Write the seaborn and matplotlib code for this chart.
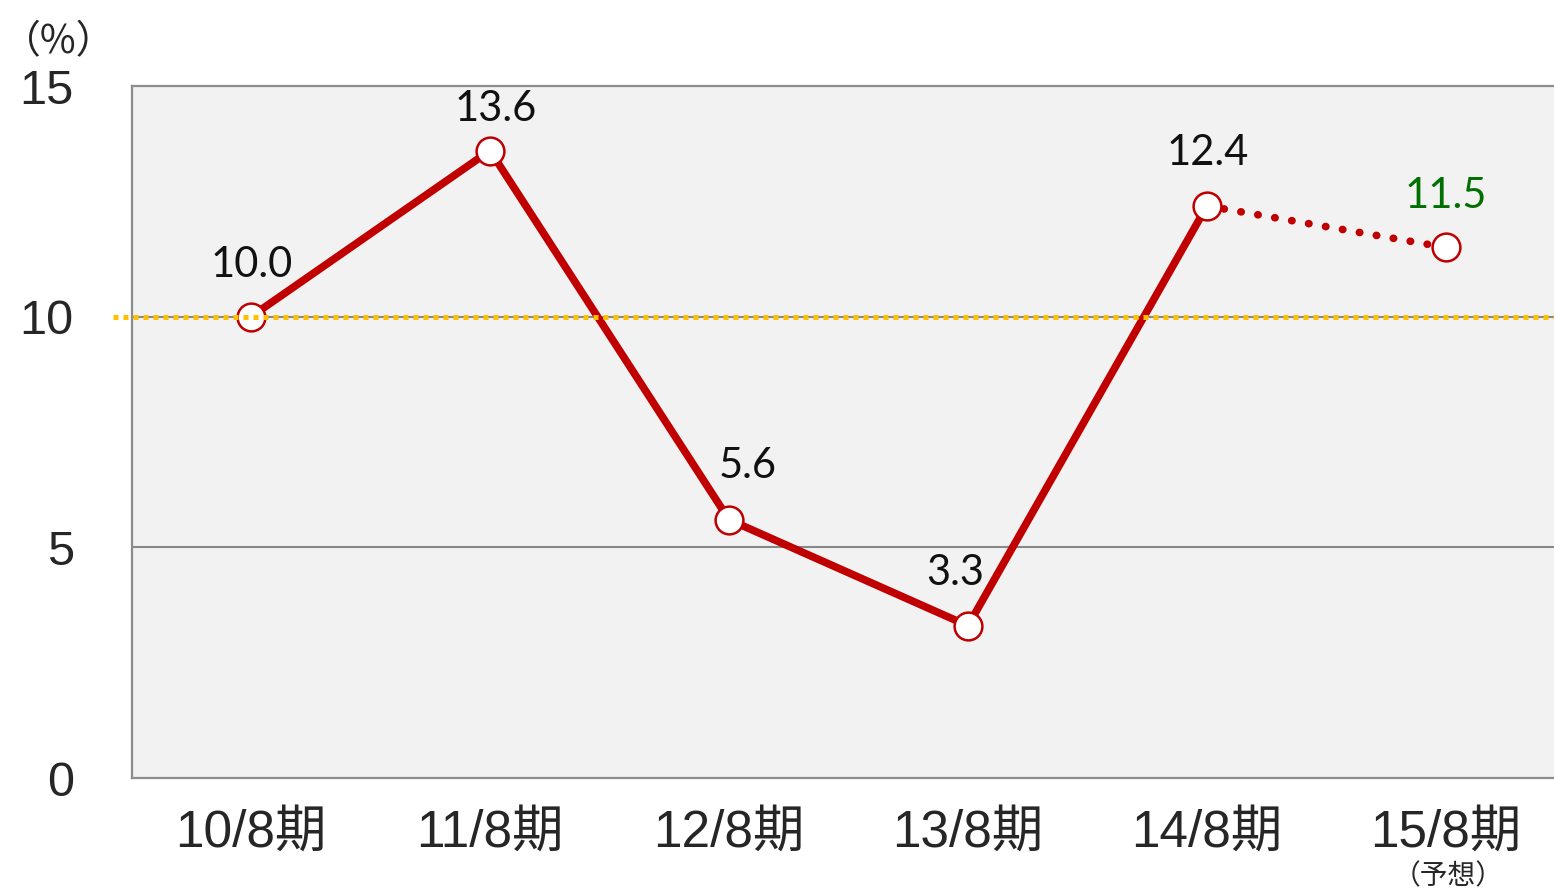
import matplotlib
matplotlib.use("Agg")
import matplotlib.pyplot as plt
import seaborn as sns
import pandas as pd
import numpy as np

categories = ["10/8期", "11/8期", "12/8期", "13/8期", "14/8期", "15/8期"]
values = [10.0, 13.6, 5.6, 3.3, 12.4, 11.5]
label_texts = ["10.0", "13.6", "5.6", "3.3", "12.4", "11.5"]
yticks = [0, 5, 10, 15]

sns.set_theme(style="white")
plt.rcParams['font.family'] = ['Liberation Sans', 'Noto Sans CJK JP', 'DejaVu Sans']

W, H = 1554, 892
fig = plt.figure(figsize=(W / 100, H / 100), dpi=100)
ax = fig.add_axes([132 / W, 1 - 778 / H, (W - 132) / W, (778 - 86) / H])
ax.set_facecolor("#f2f2f2")

df = pd.DataFrame({"cat": categories, "x": np.arange(len(categories)), "v": values})
solid = df.iloc[:5]
dotted = df.iloc[4:]

red = "#c00000"
sns.lineplot(data=solid, x="x", y="v", ax=ax, color=red, lw=5.5, zorder=3)
sns.lineplot(data=dotted, x="x", y="v", ax=ax, color=red, lw=5.5,
             linestyle=(0, (0.05, 2.2)), zorder=3)
ax.lines[-1].set_dash_capstyle("round")
ax.scatter(df["x"], df["v"], s=400, facecolor="white", edgecolor=red, linewidth=1.8, zorder=4)

for y in [5, 10]:
    ax.axhline(y, color="#888888", lw=1.5, zorder=1)
ax.plot([-0.577, 5.452], [10, 10], color="#ffc000", lw=3.6, linestyle=(0, (1, 1)),
        clip_on=False, zorder=5)

ax.set_xlim(-0.498, 5.452)
ax.set_ylim(0, 15)
ax.set_yticks(yticks)
ax.set_yticklabels([str(t) for t in yticks], fontsize=35, family=['Liberation Sans'])
ax.set_xticks(df["x"])
ax.set_xticklabels(categories, fontsize=37)
ax.tick_params(axis="y", length=0, pad=42)
ax.tick_params(axis="x", length=0, pad=22)
ax.set_xlabel("")
ax.set_ylabel("")
for s in ["left", "top", "bottom"]:
    ax.spines[s].set_color("#8c8c8c")
    ax.spines[s].set_linewidth(1.6)
ax.spines["right"].set_visible(False)

offsets = [(1, 52), (6, 42), (19, 54), (-13, 53), (1, 53), (0, 51)]
for i, (v, t) in enumerate(zip(values, label_texts)):
    dx, dy = offsets[i]
    ax.annotate(t, (i, v), xytext=(dx, dy), textcoords="offset pixels",
                ha="center", va="center", fontsize=30, family=['Lato', 'DejaVu Sans'],
                color="#007000" if i == 5 else "#111111", zorder=6)

fig.text(1448 / W, 1 - 876 / H, "（予想）", ha="center", va="center", fontsize=20,
         family=['Noto Sans CJK JP'])
fig.text(2 / W, 1 - 42 / H, "（%）", ha="left", va="center", fontsize=28,
         family=['Noto Sans CJK JP'])

fig.savefig("out.png", dpi=100)
